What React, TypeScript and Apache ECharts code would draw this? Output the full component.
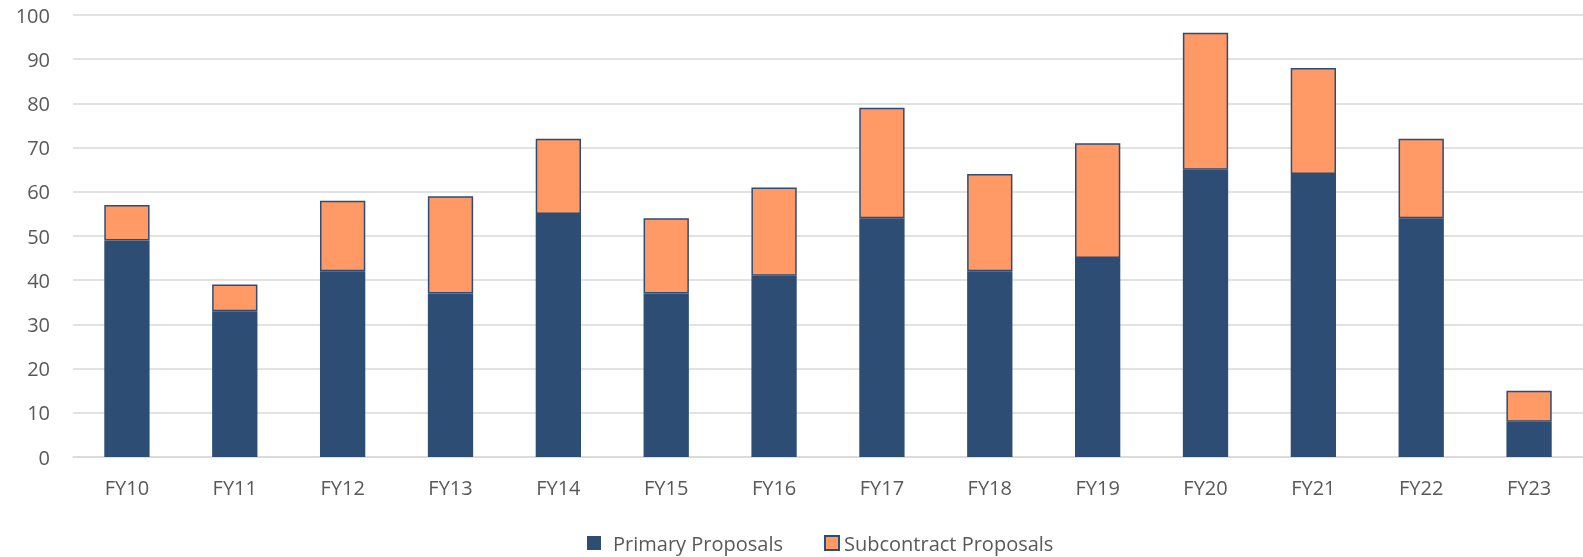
import React, { useEffect, useRef } from "react";
import * as echarts from "echarts";

const categories = ["FY10", "FY11", "FY12", "FY13", "FY14", "FY15", "FY16", "FY17", "FY18", "FY19", "FY20", "FY21", "FY22", "FY23"];
const primary = [49, 33, 42, 37, 55, 37, 41, 54, 42, 45, 65, 64, 54, 8];
const subcontract = [8, 6, 16, 22, 17, 17, 20, 25, 22, 26, 31, 24, 18, 7];
const seriesNames = ["Primary Proposals", "Subcontract Proposals"];

const FONT = "'Open Sans', 'Noto Sans', sans-serif";
const TEXT = "#595959";
const BLUE = "#2E4D74";
const ORANGE = "#FF9966";

export default function App() {
  const ref = useRef<HTMLDivElement>(null);
  useEffect(() => {
    if (!ref.current) return;
    const chart = echarts.init(ref.current, null, { renderer: "svg" });
    const legendBase = {
      top: 527,
      itemWidth: 14,
      itemHeight: 14,
      icon: "rect",
      textStyle: { fontSize: 20, lineHeight: 22, color: TEXT, fontFamily: FONT },
    };
    chart.setOption({
      animation: false,
      textStyle: { fontFamily: FONT },
      grid: { left: 73, width: 1530, top: 15, bottom: 100 },
      legend: [
        {
          ...legendBase,
          left: 582,
          data: [seriesNames[0]],
          textStyle: { ...legendBase.textStyle, padding: [0, 0, 0, 7] },
        },
        {
          ...legendBase,
          left: 819,
          data: [seriesNames[1]],
          textStyle: { ...legendBase.textStyle, padding: [0, 0, 0, 0] },
        },
      ],
      xAxis: {
        type: "category",
        data: categories,
        axisLine: { show: true, lineStyle: { color: "#D9D9D9", width: 1.5 } },
        axisTick: { show: false },
        axisLabel: { fontSize: 20, color: TEXT, margin: 20, fontFamily: FONT },
      },
      yAxis: {
        type: "value",
        min: 0,
        max: 100,
        interval: 10,
        axisLine: { show: false },
        axisTick: { show: false },
        splitLine: { lineStyle: { color: "#D9D9D9", width: 1.5 } },
        axisLabel: { fontSize: 20, color: TEXT, margin: 23, fontFamily: FONT },
      },
      series: [
        {
          name: seriesNames[0],
          type: "bar",
          stack: "total",
          data: primary,
          barWidth: "42%",
          itemStyle: { color: BLUE },
        },
        {
          name: seriesNames[1],
          type: "bar",
          stack: "total",
          data: subcontract,
          barWidth: "42%",
          itemStyle: { color: ORANGE, borderColor: BLUE, borderWidth: 1.5 },
        },
      ],
    });
    return () => chart.dispose();
  }, []);
  return (
    <div
      ref={ref}
      style={{ position: "fixed", left: 0, top: 0, width: 1583, height: 557 }}
    />
  );
}
